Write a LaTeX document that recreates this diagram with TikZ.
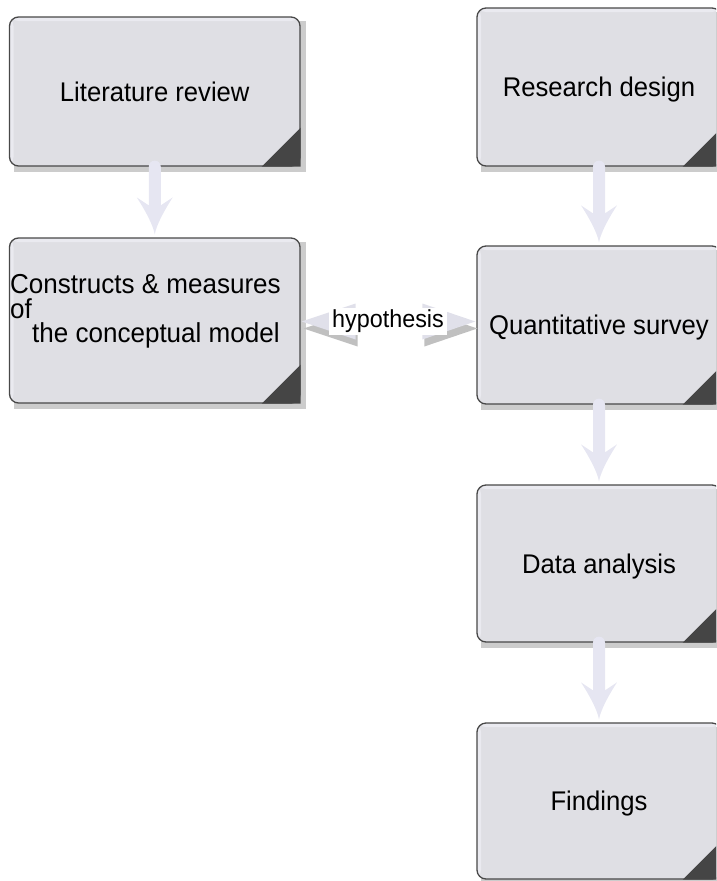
\documentclass[tikz,border=0pt]{standalone}
\usepackage{fontspec}
\setmainfont{Liberation Sans}[FakeStretch=0.95]
\usetikzlibrary{calc,backgrounds}
\definecolor{boxfill}{RGB}{223,223,228}
\definecolor{boxhl}{RGB}{234,234,240}
\definecolor{boxline}{RGB}{72,72,72}
\definecolor{cornerc}{RGB}{69,69,69}
\definecolor{shadec}{RGB}{204,204,204}
\definecolor{arrowc}{RGB}{230,230,242}
\definecolor{hypc}{RGB}{224,224,234}
\definecolor{hypshadow}{RGB}{192,192,192}
\begin{document}
\begin{tikzpicture}[x=1pt,y=-1pt,
  stagebox/.style={draw=boxline, line width=1.3pt, fill=boxfill, rounded corners=9pt,
    inner sep=0pt, text depth=0pt, font=\fontsize{27}{26}\selectfont,
    path picture={
      \fill[boxhl] (path picture bounding box.north west) rectangle ([xshift=4pt]path picture bounding box.south west);
      \fill[boxhl] (path picture bounding box.north west) rectangle ([yshift=-4pt]path picture bounding box.north east);
    }},
  flowarrow/.style={fill=arrowc, draw=none, to path={
    ($(\tikztostart)+(-6,0)$) -- ($(\tikztotarget)+(-6,-32)$) -- ($(\tikztotarget)+(-18,-40)$)
    .. controls ($(\tikztotarget)+(-9,-26)$) and ($(\tikztotarget)+(-2,-13)$) .. ($(\tikztotarget)+(0,-3)$)
    .. controls ($(\tikztotarget)+(2,-13)$) and ($(\tikztotarget)+(9,-26)$) .. ($(\tikztotarget)+(18,-40)$)
    -- ($(\tikztotarget)+(6,-32)$) -- ($(\tikztostart)+(6,0)$)
    arc[start angle=0, end angle=180, radius=6pt] -- cycle}},
  hyparrow/.style n args={3}{fill=#3, draw=none, to path={
    ($(\tikztostart)+(1+#1,#2)$) -- ($(\tikztostart)+(55+#1,-18+#2)$) -- ($(\tikztostart)+(55+#1,-6+#2)$)
    -- ($(\tikztotarget)+(-54+#1,-6+#2)$) -- ($(\tikztotarget)+(-54+#1,-18+#2)$) -- ($(\tikztotarget)+(-1+#1,#2)$)
    -- ($(\tikztotarget)+(-54+#1,18+#2)$) -- ($(\tikztotarget)+(-54+#1,6+#2)$)
    -- ($(\tikztostart)+(55+#1,6+#2)$) -- ($(\tikztostart)+(55+#1,18+#2)$) -- cycle}},
  labelbox/.style={fill=white, inner xsep=3pt, inner ysep=2pt, font=\fontsize{24.6}{26}\selectfont},
  cornermark/.style={fill=cornerc},
  boxshadow/.style={fill=shadec}
]
\useasboundingbox (0,0) rectangle (716,881);
\clip (0,0) rectangle (716,881);

% boxes
\node[stagebox, minimum width=290.5pt, minimum height=149pt] (lr) at (154.75,91.5) {Literature review};
\node[stagebox, minimum width=290.5pt, minimum height=165pt] (cm) at (154.75,320.5) {};
\node[stagebox, minimum width=244pt, minimum height=158pt] (rd) at (599,87) {Research design};
\node[stagebox, minimum width=244pt, minimum height=158pt] (qs) at (599,325) {Quantitative survey};
\node[stagebox, minimum width=244pt, minimum height=157pt] (da) at (599,563.5) {Data analysis};
\node[stagebox, minimum width=244pt, minimum height=156pt] (fi) at (599,801) {Findings};

\node[anchor=north west, inner sep=0pt, align=left, font=\fontsize{27.4}{24.8}\selectfont] (cmt) at (10,274)
  {Constructs \& measures\\of\\\hspace*{22pt}the conceptual model};

% dark folded corners
\foreach \nm in {lr,cm,rd,qs,da,fi}
  \fill[cornermark] (\nm.south east) -- ++(0,-39) -- ++(-39,39) -- cycle;

% shadows
\begin{scope}[on background layer]
\foreach \nm in {lr,cm,rd,qs,da,fi}
  \fill[boxshadow] ($(\nm.north west)+(5,5)$) rectangle ($(\nm.south east)+(5,5)$);
\end{scope}

% vertical arrows
\path[flowarrow] (lr.south) to (cm.north);
\path[flowarrow] (rd.south) to (qs.north);
\path[flowarrow] (qs.south) to (da.north);
\path[flowarrow] (da.south) to (fi.north);

% hypothesis double arrow
\coordinate (hy) at (388,321.5);
\path[hyparrow={2}{7}{hypshadow}] (cm.east |- hy) to (qs.west |- hy);
\path[hyparrow={0}{0}{hypc}] (cm.east |- hy) to (qs.west |- hy);
\node[labelbox] (hyp) at (hy) {hypothesis};
\end{tikzpicture}
\end{document}
